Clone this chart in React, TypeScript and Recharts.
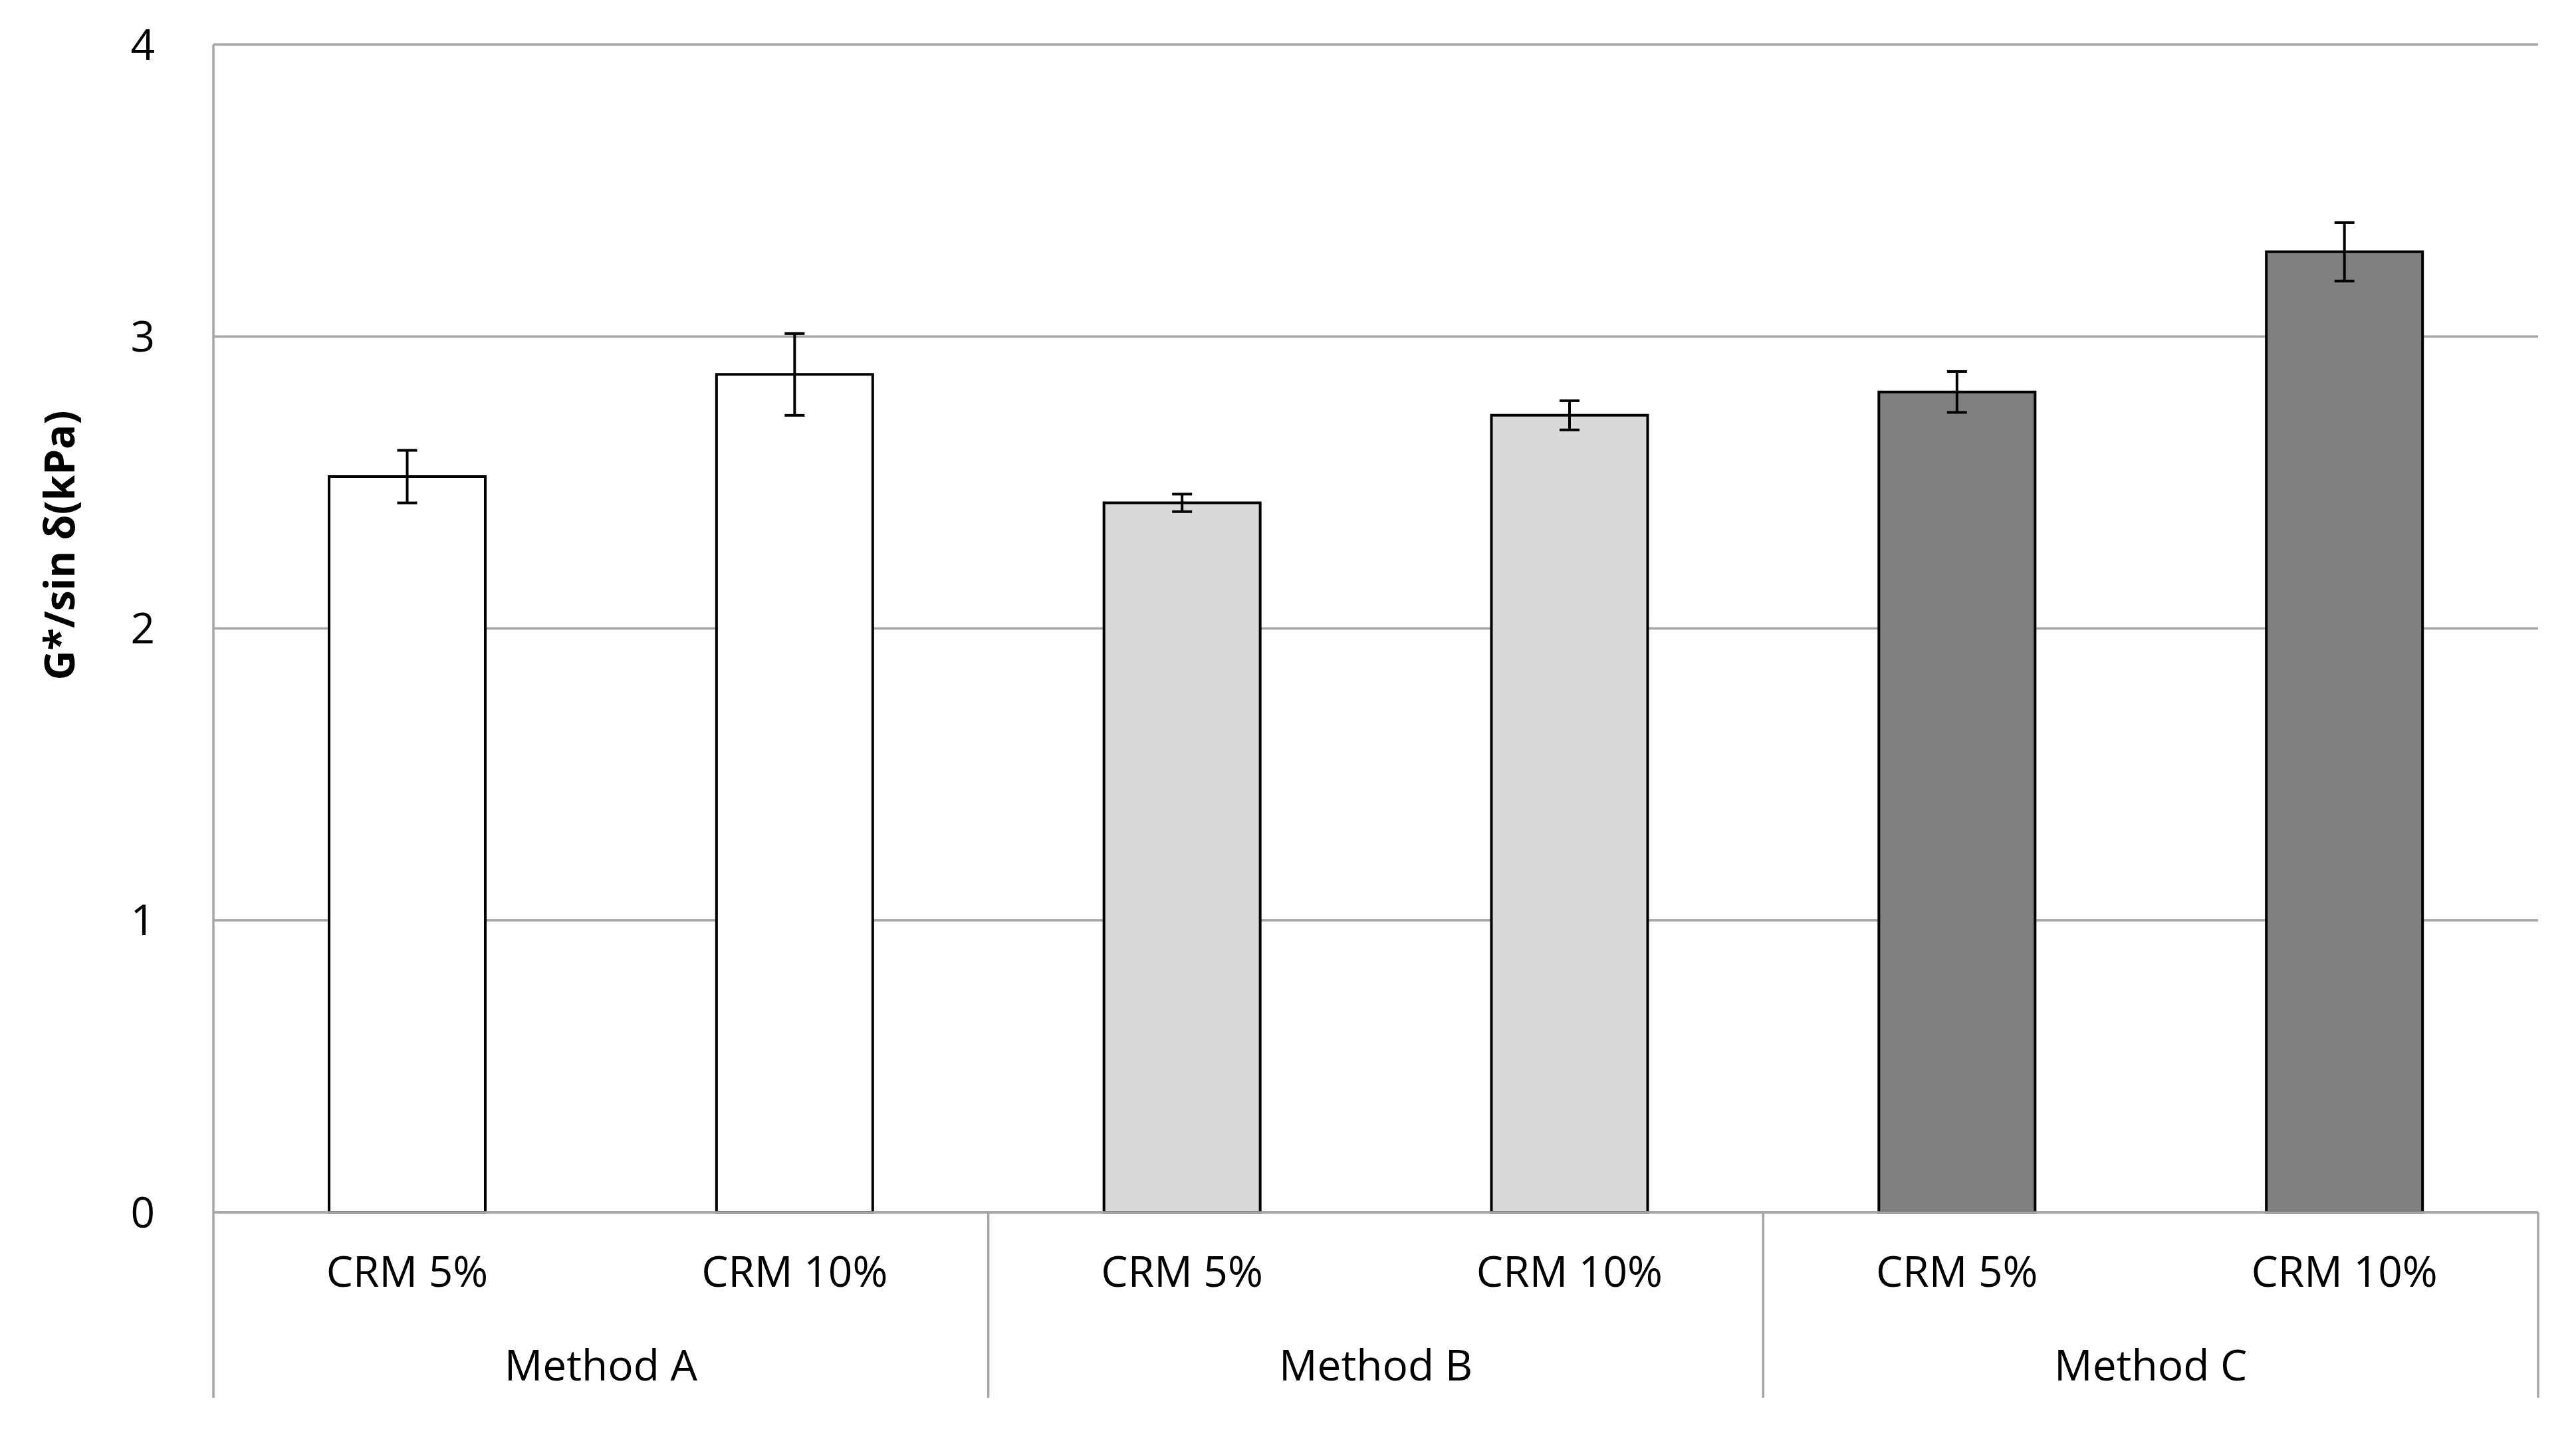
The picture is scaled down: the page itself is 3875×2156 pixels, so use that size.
import React from 'react';
import { BarChart, Bar, XAxis, YAxis, CartesianGrid, ErrorBar, Cell } from 'recharts';

const methods = ['Method A', 'Method A', 'Method B', 'Method B', 'Method C', 'Method C'];
const crmLabels = ['CRM 5%', 'CRM 10%', 'CRM 5%', 'CRM 10%', 'CRM 5%', 'CRM 10%'];
const values = [2.52, 2.87, 2.43, 2.73, 2.81, 3.29];
const errors = [0.09, 0.14, 0.03, 0.05, 0.07, 0.1];
const methodColors: Record<string, string> = {
  'Method A': '#ffffff',
  'Method B': '#d9d9d9',
  'Method C': '#808080',
};
const yTicks = [0, 1, 2, 3, 4];
const yLabel = 'G*/sin δ(kPa)';

const data = crmLabels.map((crm, i) => ({
  crm,
  method: methods[i],
  value: values[i],
  err: errors[i],
}));

const W = 3875;
const H = 2156;
const MARGIN = { top: 67, right: 57, left: 0, bottom: 0 };
const Y_AXIS_W = 321;
const X_AXIS_H = 332;
const PLOT_W = W - MARGIN.left - MARGIN.right - Y_AXIS_W;
const CAT_W = PLOT_W / data.length;

const FONT = '"Open Sans", "Noto Sans", sans-serif';
const GRID = '#a6a6a6';
const TEXT = '#000000';

const CategoryTick = (props: any) => {
  const { x, y, payload } = props;
  const i: number = payload.index ?? props.index;
  const d = data[i];
  const isFirst = i === 0 || data[i - 1].method !== d.method;
  const isLast = i === data.length - 1;
  const elems: any[] = [];
  elems.push(
    <text key="c" x={x} y={y + 112} textAnchor="middle" fontFamily={FONT} fontSize={64} fill={TEXT}>
      {d.crm}
    </text>
  );
  if (isFirst) {
    elems.push(
      <line key="s" x1={x - CAT_W / 2} x2={x - CAT_W / 2} y1={y} y2={y + 279} stroke={GRID} strokeWidth={3.5} />
    );
    elems.push(
      <text key="m" x={x + CAT_W / 2} y={y + 253} textAnchor="middle" fontFamily={FONT} fontSize={64} fill={TEXT}>
        {d.method}
      </text>
    );
  }
  if (isLast) {
    elems.push(
      <line key="e" x1={x + CAT_W / 2} x2={x + CAT_W / 2} y1={y} y2={y + 279} stroke={GRID} strokeWidth={3.5} />
    );
  }
  return <g>{elems}</g>;
};

const YLabel = (props: any) => {
  const vb = props.viewBox || { x: 0, y: 67, width: 321, height: 1757 };
  const cx = vb.x + 88;
  const cy = vb.y + vb.height / 2 - 125;
  return (
    <text
      x={cx}
      y={cy}
      transform={`rotate(-90, ${cx}, ${cy})`}
      textAnchor="middle"
      dominantBaseline="central"
      fontFamily={FONT}
      fontWeight="bold"
      fontSize={62}
      fill={TEXT}
    >
      {yLabel}
    </text>
  );
};

export default function App() {
  return (
    <div style={{ position: 'absolute', left: 0, top: 0, width: W, height: H, background: '#fff' }}>
      <BarChart width={W} height={H} data={data} margin={MARGIN}>
        <CartesianGrid vertical={false} stroke={GRID} strokeWidth={3.5} />
        <XAxis
          dataKey="crm"
          height={X_AXIS_H}
          tickLine={false}
          tickSize={0}
          tickMargin={0}
          axisLine={{ stroke: GRID, strokeWidth: 3.5 }}
          tick={<CategoryTick />}
          interval={0}
        />
        <YAxis
          width={Y_AXIS_W}
          domain={[0, 4]}
          ticks={yTicks}
          tickLine={false}
          tickSize={0}
          tickMargin={88}
          axisLine={{ stroke: GRID, strokeWidth: 3.5 }}
          tick={{ fontFamily: FONT, fontSize: 64, fill: TEXT }}
          label={<YLabel />}
        />
        <Bar dataKey="value" barSize={235} stroke="#000" strokeWidth={4} isAnimationActive={false}>
          {data.map((d, i) => (
            <Cell key={i} fill={methodColors[d.method]} />
          ))}
          <ErrorBar dataKey="err" width={15} stroke="#000" strokeWidth={4} direction="y" />
        </Bar>
      </BarChart>
    </div>
  );
}
